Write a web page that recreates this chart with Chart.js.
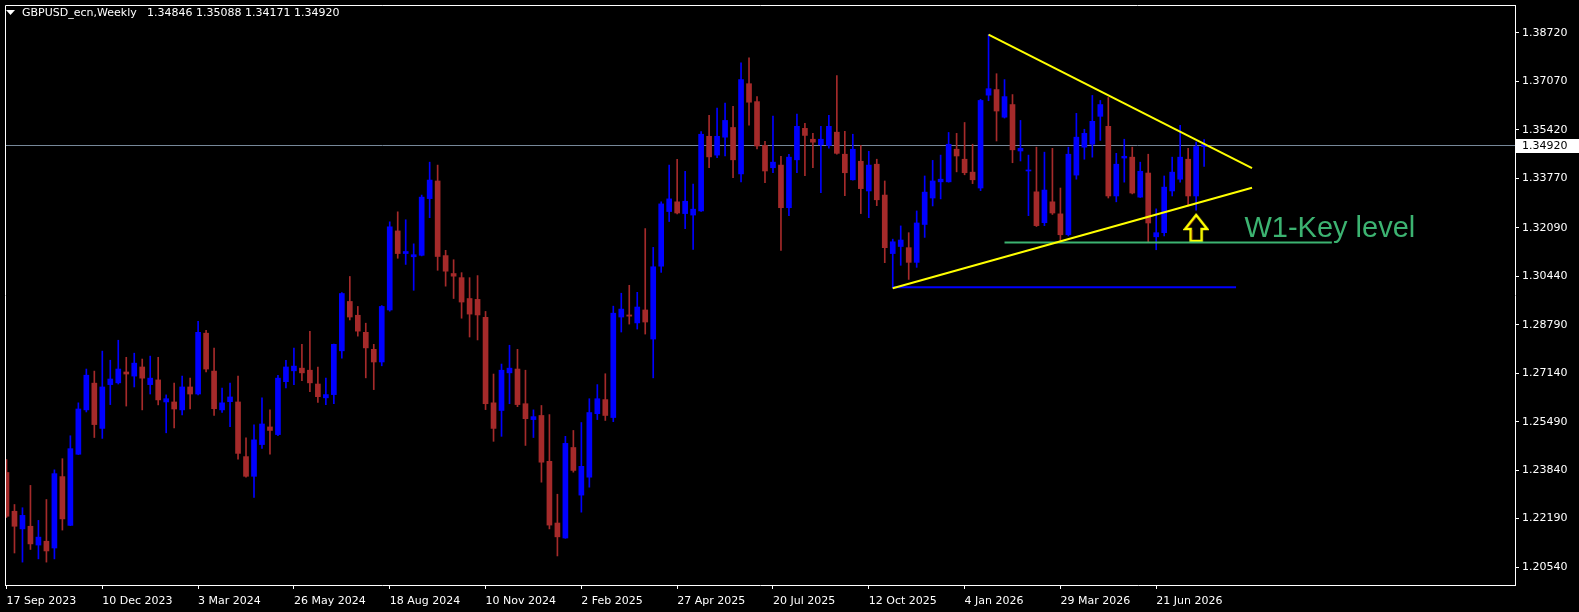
<!DOCTYPE html>
<html>
<head>
<meta charset="utf-8">
<script src="https://cdn.jsdelivr.net/npm/chart.js@4.4.1/dist/chart.umd.min.js"></script>
<style>
  html, body { margin: 0; padding: 0; background: #000; overflow: hidden; }
  #wrap { width: 1579px; height: 612px; }
</style>
</head>
<body>
<div id="wrap"><canvas id="chart" width="1579" height="612"></canvas></div>
<script>
// weekly GBPUSD candles, index 0 = week of 17 Sep 2023
const opens = [1.2376,1.2244,1.2184,1.2193,1.2129,1.2142,1.2119,1.2362,1.2196,1.2438,1.2589,1.2680,1.2526,1.2675,1.2681,1.2718,1.2704,1.2735,1.2675,1.2691,
  1.2616,1.2616,1.2589,1.2667,1.2643,1.2850,1.2721,1.2589,1.2617,1.2616,1.2430,1.2363,1.2471,1.2531,1.2505,1.2685,1.2722,1.2731,1.2724,1.2677,
  1.2630,1.2641,1.2790,1.2958,1.2911,1.2853,1.2795,1.2752,1.2929,1.3198,1.3121,1.3110,1.3115,1.3308,1.3368,1.3114,1.3053,1.3039,1.2968,1.2965,
  1.2904,1.2613,1.2587,1.2715,1.2728,1.2610,1.2556,1.2570,1.2414,1.2204,1.2153,1.2461,1.2299,1.2360,1.2576,1.2624,1.2563,1.2905,1.2912,1.2885,
  1.2929,1.2830,1.3078,1.3264,1.3297,1.3257,1.3252,1.3266,1.3520,1.3456,1.3517,1.3550,1.3392,1.3699,1.3638,1.3489,1.3413,1.3422,1.3277,1.3440,
  1.3547,1.3510,1.3491,1.3489,1.3534,1.3459,1.3372,1.3435,1.3334,1.3425,1.3320,1.3121,1.3145,1.3141,1.3091,1.3220,1.3310,1.3365,1.3365,1.3476,
  1.3442,1.3398,1.3344,1.3660,1.3679,1.3585,1.3628,1.3470,1.3402,1.3331,1.3226,1.3297,1.3256,1.3185,1.3388,1.3483,1.3493,1.3588,1.3554,1.3317,
  1.3446,1.3449,1.3313,1.3395,1.3178,1.3192,1.3334,1.3374,1.3442,1.3317,1.34846];
const highs = [1.2420,1.2267,1.2256,1.2332,1.2213,1.2284,1.2385,1.2423,1.2501,1.2613,1.2728,1.2721,1.2789,1.2758,1.2826,1.2768,1.2782,1.2762,1.2772,1.2768,
  1.2640,1.2680,1.2704,1.2697,1.2890,1.2860,1.2799,1.2663,1.2680,1.2704,1.2494,1.2538,1.2630,1.2589,1.2707,1.2758,1.2799,1.2812,1.2856,1.2735,
  1.2697,1.2813,1.2988,1.3043,1.2941,1.2884,1.2812,1.2944,1.3229,1.3263,1.3236,1.3154,1.3320,1.3432,1.3422,1.3132,1.3100,1.3056,1.3039,1.3046,
  1.2924,1.2711,1.2745,1.2809,1.2795,1.2724,1.2589,1.2604,1.2573,1.2302,1.2499,1.2519,1.2546,1.2627,1.2675,1.2712,1.2942,1.2986,1.3013,1.2989,
  1.3206,1.3142,1.3297,1.3422,1.3442,1.3401,1.3357,1.3536,1.3591,1.3616,1.3633,1.3622,1.3770,1.3787,1.3655,1.3503,1.3589,1.3452,1.3459,1.3596,
  1.3564,1.3530,1.3554,1.3591,1.3727,1.3537,1.3527,1.3489,1.3469,1.3442,1.3368,1.3170,1.3215,1.3192,1.3266,1.3385,1.3438,1.3456,1.3533,1.3530,
  1.3567,1.3493,1.3646,1.3866,1.3733,1.3713,1.3662,1.3574,1.3456,1.3483,1.3466,1.3479,1.3344,1.3483,1.3598,1.3544,1.3659,1.3642,1.3652,1.3462,
  1.3510,1.3483,1.3432,1.3459,1.3273,1.3385,1.3449,1.3557,1.3479,1.3500,1.35088];
const lows = [1.2223,1.2102,1.2071,1.2114,1.2082,1.2071,1.2082,1.2180,1.2195,1.2437,1.2582,1.2495,1.2492,1.2607,1.2677,1.2602,1.2667,1.2589,1.2643,1.2606,
  1.2511,1.2528,1.2572,1.2592,1.2640,1.2718,1.2570,1.2580,1.2532,1.2421,1.2360,1.2291,1.2458,1.2438,1.2501,1.2664,1.2675,1.2688,1.2651,1.2614,
  1.2607,1.2610,1.2765,1.2895,1.2840,1.2698,1.2658,1.2739,1.2925,1.3105,1.3084,1.2996,1.3113,1.3243,1.3064,1.3010,1.2968,1.2901,1.2837,1.2827,
  1.2590,1.2482,1.2499,1.2610,1.2600,1.2468,1.2495,1.2343,1.2184,1.2092,1.2152,1.2377,1.2241,1.2326,1.2556,1.2553,1.2549,1.2854,1.2881,1.2864,
  1.2847,1.2698,1.3057,1.3230,1.3256,1.3206,1.3135,1.3264,1.3413,1.3447,1.3453,1.3379,1.3365,1.3558,1.3477,1.3362,1.3396,1.3132,1.3250,1.3396,
  1.3386,1.3413,1.3328,1.3480,1.3459,1.3318,1.3371,1.3257,1.3243,1.3284,1.3090,1.3003,1.3081,1.3033,1.3074,1.3176,1.3283,1.3307,1.3364,1.3399,
  1.3389,1.3359,1.3335,1.3641,1.3504,1.3582,1.3430,1.3436,1.3250,1.3213,1.3216,1.3254,1.3161,1.3181,1.3374,1.3442,1.3449,1.3506,1.3310,1.3297,
  1.3364,1.3324,1.3312,1.3161,1.3134,1.3181,1.3317,1.3364,1.3283,1.3269,1.34171];
const closes = [1.2227,1.2193,1.2230,1.2133,1.2156,1.2109,1.2372,1.2218,1.2457,1.2592,1.2707,1.2539,1.2667,1.2694,1.2728,1.2711,1.2748,1.2697,1.2697,1.2623,
  1.2627,1.2592,1.2667,1.2643,1.2853,1.2728,1.2593,1.2613,1.2633,1.2441,1.2363,1.2487,1.2541,1.2519,1.2697,1.2735,1.2738,1.2715,1.2681,1.2634,
  1.2641,1.2812,1.2985,1.2905,1.2857,1.2800,1.2752,1.2941,1.3212,1.3121,1.3128,1.3117,1.3313,1.3371,1.3111,1.3061,1.3044,1.2956,1.2915,1.2912,
  1.2610,1.2526,1.2724,1.2731,1.2607,1.2559,1.2566,1.2411,1.2197,1.2157,1.2475,1.2383,1.2397,1.2580,1.2627,1.2570,1.2918,1.2932,1.2908,1.2939,
  1.2888,1.3076,1.3290,1.3307,1.3259,1.3299,1.3272,1.3527,1.3450,1.3520,1.3574,1.3440,1.3713,1.3636,1.3487,1.3402,1.3432,1.3277,1.3449,1.3554,
  1.3523,1.3500,1.3510,1.3554,1.3462,1.3396,1.3476,1.3342,1.3422,1.3304,1.3141,1.3161,1.3167,1.3091,1.3225,1.3330,1.3368,1.3374,1.3493,1.3453,
  1.3396,1.3372,1.3642,1.3682,1.3606,1.3655,1.3474,1.3479,1.3405,1.3216,1.3337,1.3259,1.3185,1.3459,1.3517,1.3530,1.3571,1.3628,1.3317,1.3425,
  1.3452,1.3327,1.3401,1.3225,1.3192,1.3347,1.3398,1.3449,1.3317,1.3485,1.34920];

// time axis labels (every 12 weeks)
const dateTicks = [0, 12, 24, 36, 48, 60, 72, 84, 96, 108, 120, 132, 144];
const dateLabels = ["17 Sep 2023", "10 Dec 2023", "3 Mar 2024", "26 May 2024", "18 Aug 2024", "10 Nov 2024", "2 Feb 2025",
  "27 Apr 2025", "20 Jul 2025", "12 Oct 2025", "4 Jan 2026", "29 Mar 2026", "21 Jun 2026"];
const priceTicks = [1.38720, 1.37070, 1.35420, 1.33770, 1.32090, 1.30440, 1.28790, 1.27140, 1.25490, 1.23840, 1.22190, 1.20540];

// drawn objects: [week index, price]
const upperTrend = [[123, 1.3866], [156, 1.3412]];
const lowerTrend = [[111, 1.3003], [156, 1.3345]];
const supportLine = [[111, 1.3006], [154, 1.3006]];
const keyLevel = [[125, 1.3159], [166, 1.3159]];
const arrowMark = [149, 1.3208];
const keyLabel = { text: "W1-Key level", at: [155.05, 1.3178] };

const symbolTitle = "GBPUSD_ecn,Weekly";

const BULL = "#0000ff";
const BEAR = "#a52a2a";
const last = closes.length - 1;

function candleColor(i) {
  return closes[i] >= opens[i] ? BULL : BEAR;
}

function makeArrow() {
  const c = document.createElement("canvas");
  c.width = 26;
  c.height = 30;
  const g = c.getContext("2d");
  g.beginPath();
  g.moveTo(13, 2);
  g.lineTo(24, 16);
  g.lineTo(18.5, 16);
  g.lineTo(18.5, 28);
  g.lineTo(7.5, 28);
  g.lineTo(7.5, 16);
  g.lineTo(2, 16);
  g.closePath();
  g.lineWidth = 2.5;
  g.strokeStyle = "#ffff00";
  g.stroke();
  g.lineWidth = 0.8;
  g.strokeStyle = "rgba(200,60,20,0.8)";
  g.beginPath();
  g.moveTo(13, 4.5);
  g.lineTo(4.5, 15);
  g.moveTo(9, 17);
  g.lineTo(9, 26.5);
  g.stroke();
  return c;
}

function lineSet(pts, color, width) {
  return {
    type: "line",
    data: pts.map((p) => ({ x: p[0], y: p[1] })),
    borderColor: color,
    borderWidth: width,
    pointRadius: 0,
    fill: false,
    order: 0,
  };
}

function noPad(s) {
  s.paddingTop = 0;
  s.paddingBottom = 0;
  s.paddingLeft = 0;
  s.paddingRight = 0;
}

const mtFrame = {
  id: "mtFrame",
  beforeDraw(chart) {
    const ctx = chart.ctx;
    ctx.save();
    ctx.fillStyle = "#000";
    ctx.fillRect(0, 0, chart.width, chart.height);
    ctx.restore();
  },
  beforeDatasetsDraw(chart) {
    // current price line
    const { ctx, chartArea } = chart;
    const y = Math.round(chart.scales.y.getPixelForValue(closes[last])) + 0.5;
    ctx.save();
    ctx.strokeStyle = "#778899";
    ctx.lineWidth = 1;
    ctx.beginPath();
    ctx.moveTo(chartArea.left, y);
    ctx.lineTo(chartArea.right, y);
    ctx.stroke();
    ctx.restore();
  },
  afterDraw(chart) {
    const { ctx, chartArea } = chart;
    const xs = chart.scales.x;
    const ys = chart.scales.y;
    ctx.save();
    // frame top and left
    ctx.strokeStyle = "#ffffff";
    ctx.lineWidth = 1;
    ctx.beginPath();
    ctx.moveTo(chartArea.left + 0.5, chartArea.bottom);
    ctx.lineTo(chartArea.left + 0.5, chartArea.top + 0.5);
    ctx.lineTo(chartArea.right, chartArea.top + 0.5);
    ctx.stroke();

    // header
    ctx.fillStyle = "#ffffff";
    ctx.beginPath();
    ctx.moveTo(6, 10);
    ctx.lineTo(15, 10);
    ctx.lineTo(10.5, 15);
    ctx.closePath();
    ctx.fill();
    ctx.font = "11px 'DejaVu Sans'";
    ctx.textBaseline = "middle";
    ctx.textAlign = "left";
    ctx.fillText(symbolTitle, 22, 13);
    const ohlc = [opens[last], highs[last], lows[last], closes[last]].map((v) => v.toFixed(5)).join(" ");
    ctx.fillText(ohlc, 147, 13);

    // key level label
    ctx.fillStyle = "#3cb371";
    ctx.font = "29px 'Liberation Sans'";
    ctx.textBaseline = "alphabetic";
    ctx.fillText(keyLabel.text, xs.getPixelForValue(keyLabel.at[0]), ys.getPixelForValue(keyLabel.at[1]));

    // current price tag on axis
    const py = Math.round(ys.getPixelForValue(closes[last]));
    ctx.fillStyle = "#ffffff";
    ctx.fillRect(chartArea.right + 1, py - 6, chart.width - chartArea.right - 1, 14);
    ctx.fillStyle = "#000000";
    ctx.font = "11px 'DejaVu Sans'";
    ctx.textBaseline = "middle";
    ctx.fillText(closes[last].toFixed(5), chartArea.right + 7, py + 1);
    ctx.restore();
  },
};

const ctx = document.getElementById("chart").getContext("2d");

const chart = new Chart(ctx, {
  type: "bar",
  data: {
    datasets: [
      lineSet(upperTrend, "#ffff00", 2),
      lineSet(lowerTrend, "#ffff00", 2),
      lineSet(supportLine, "#0000ff", 2),
      lineSet(keyLevel, "#3cb371", 2),
      {
        type: "line",
        data: [{ x: arrowMark[0], y: arrowMark[1] }],
        showLine: false,
        pointStyle: makeArrow(),
        pointRadius: 1,
        order: 0,
      },
      {
        label: "body",
        data: opens.map((o, i) => ({ x: i, y: [o, closes[i]] })),
        backgroundColor: opens.map((o, i) => candleColor(i)),
        barThickness: 5,
        minBarLength: 1,
        grouped: false,
        borderWidth: 0,
        order: 2,
      },
      {
        label: "wick",
        data: lows.map((l, i) => ({ x: i, y: [l, highs[i]] })),
        backgroundColor: lows.map((l, i) => candleColor(i)),
        barThickness: 1,
        grouped: false,
        borderWidth: 0,
        order: 3,
      },
    ],
  },
  options: {
    responsive: false,
    animation: false,
    devicePixelRatio: 1,
    layout: { padding: { left: 2, top: 2, right: 0, bottom: 0 } },
    plugins: { legend: { display: false }, tooltip: { enabled: false } },
    scales: {
      x: {
        type: "linear",
        offset: false,
        min: -0.1875,
        max: 188.9375,
        afterFit: (s) => { s.height = 27; noPad(s); },
        afterBuildTicks: (s) => { s.ticks = dateTicks.map((v) => ({ value: v })); },
        ticks: {
          color: "#ffffff",
          font: { family: "DejaVu Sans", size: 11 },
          autoSkip: false,
          maxRotation: 0,
          align: "start",
          padding: 6,
          callback: (v, i) => dateLabels[i],
        },
        grid: { offset: false, drawOnChartArea: false, drawTicks: true, tickLength: 4, color: "#ffffff" },
        border: { display: true, color: "#ffffff" },
      },
      y: {
        position: "right",
        min: 1.19931,
        max: 1.39668,
        afterFit: (s) => { s.width = 64; noPad(s); },
        afterBuildTicks: (s) => { s.ticks = priceTicks.map((v) => ({ value: v })); },
        ticks: {
          color: "#ffffff",
          font: { family: "DejaVu Sans", size: 11 },
          padding: 3,
          callback: (v) => v.toFixed(5),
        },
        grid: { drawOnChartArea: false, drawTicks: true, tickLength: 4, color: "#ffffff" },
        border: { display: true, color: "#ffffff" },
      },
    },
  },
  plugins: [mtFrame],
});
</script>
</body>
</html>
